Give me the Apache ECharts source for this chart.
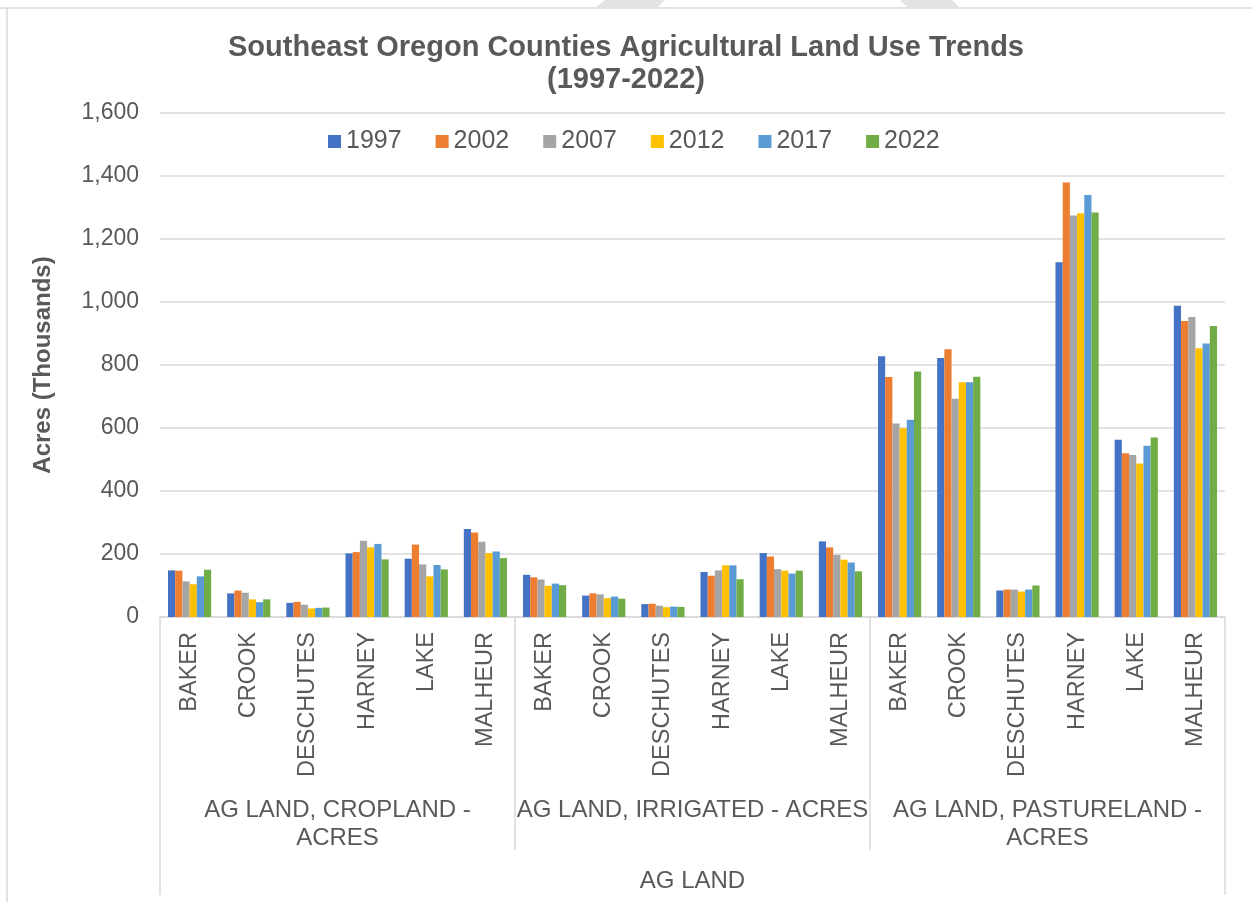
<!DOCTYPE html>
<html>
<head>
<meta charset="utf-8">
<title>Southeast Oregon Counties Agricultural Land Use Trends</title>
<script src="https://cdn.jsdelivr.net/npm/echarts@6/dist/echarts.min.js"></script>
<style>
	html, body { margin: 0; padding: 0; background: #ffffff; }
	#chart { width: 1252px; height: 902px; }
</style>
</head>
<body>
<div id="chart"></div>
<script>
	// county labels, repeated for each land-use group
	var counties = ['BAKER', 'CROOK', 'DESCHUTES', 'HARNEY', 'LAKE', 'MALHEUR'];
	var countyLabels = counties.concat(counties, counties);
	var groupLabels = ['AG LAND, CROPLAND -\nACRES', 'AG LAND, IRRIGATED - ACRES', 'AG LAND, PASTURELAND -\nACRES'];
	var topLabels = ['AG LAND'];
	var years = ['1997', '2002', '2007', '2012', '2017', '2022'];
	var yTicks = [0, 200, 400, 600, 800, 1000, 1200, 1400, 1600];

	// acres (thousands): cropland x6, irrigated x6, pastureland x6
	var v1997 = [148, 75, 45, 202, 185, 279,  134, 68, 41, 143, 203, 240,  828, 822, 84, 1126, 563, 988];
	var v2002 = [147, 84, 48, 206, 230, 268,  126, 75, 42, 131, 192, 221,  762, 850, 87, 1379, 520, 940];
	var v2007 = [113, 77, 39, 242, 167, 239,  119, 72, 36, 148, 152, 197,  614, 693, 87, 1275, 514, 952];
	var v2012 = [104, 56, 27, 221, 129, 203,   99, 60, 31, 164, 147, 182,  599, 745, 81, 1282, 487, 853];
	var v2017 = [129, 47, 29, 232, 165, 208,  106, 65, 33, 164, 138, 173,  626, 745, 87, 1340, 544, 868];
	var v2022 = [150, 56, 30, 183, 151, 187,  101, 58, 32, 120, 147, 145,  779, 763, 100, 1284, 570, 924];

	var seriesValues = [v1997, v2002, v2007, v2012, v2017, v2022];
	var colors = ['#4472c4', '#ed7d31', '#a5a5a5', '#ffc000', '#5b9bd5', '#70ad47'];
	var textColor = '#595959';
	var lineColor = '#d9d9d9';
	var font = 'Arial, "Liberation Sans", sans-serif';

	var myChart = echarts.init(document.getElementById('chart'));

	var series = years.map(function (y, i) {
		return {
			name: y,
			type: 'bar',
			xAxisIndex: 0,
			barGap: '0%',
			barCategoryGap: '27%',
			itemStyle: { color: colors[i] },
			data: seriesValues[i]
		};
	});

	var option = {
		animation: false,
		backgroundColor: '#ffffff',
		color: colors,
		textStyle: { fontFamily: font },
		title: {
			text: 'Southeast Oregon Counties Agricultural Land Use Trends\n(1997-2022)',
			left: 'center',
			top: 27,
			textStyle: {
				color: textColor,
				fontSize: 29,
				fontWeight: 'bold',
				lineHeight: 32,
				fontFamily: font
			}
		},
		legend: {
			data: years,
			left: 323,
			top: 124,
			itemWidth: 13,
			itemHeight: 13,
			itemGap: 34,
			icon: 'rect',
			textStyle: { color: textColor, fontSize: 25, fontFamily: font }
		},
		grid: {
			left: 160,
			right: 27,
			top: 113,
			bottom: 285,
			containLabel: false
		},
		xAxis: [
			{
				type: 'category',
				position: 'bottom',
				data: countyLabels,
				axisLine: { show: true, lineStyle: { color: lineColor, width: 1.5 } },
				axisTick: { show: false },
				axisLabel: {
					interval: 0,
					rotate: 90,
					margin: 15,
					color: textColor,
					fontSize: 23.5,
					fontFamily: font
				}
			},
			{
				type: 'category',
				position: 'bottom',
				data: groupLabels,
				axisLine: { show: false },
				axisTick: { show: true, length: 233, interval: 0, lineStyle: { color: lineColor, width: 1.5 } },
				axisLabel: {
					interval: 0,
					margin: 179,
					color: textColor,
					fontSize: 24,
					lineHeight: 28,
					align: 'center',
					verticalAlign: 'top',
					fontFamily: font
				}
			},
			{
				type: 'category',
				position: 'bottom',
				data: topLabels,
				axisLine: { show: false },
				axisTick: { show: true, length: 278, interval: 0, lineStyle: { color: lineColor, width: 1.5 } },
				axisLabel: {
					interval: 0,
					margin: 252,
					color: textColor,
					fontSize: 24,
					verticalAlign: 'top',
					fontFamily: font
				}
			}
		],
		yAxis: {
			type: 'value',
			min: yTicks[0],
			max: yTicks[yTicks.length - 1],
			interval: yTicks[1] - yTicks[0],
			name: 'Acres (Thousands)',
			nameLocation: 'middle',
			nameGap: 105,
			nameTextStyle: { color: textColor, fontSize: 24, fontWeight: 'bold', fontFamily: font },
			axisLine: { show: false },
			axisTick: { show: false },
			splitLine: { lineStyle: { color: lineColor, width: 1.5 } },
			axisLabel: {
				margin: 21,
				color: textColor,
				fontSize: 23,
				fontFamily: font,
				formatter: function (v) { return v.toLocaleString('en-US'); }
			}
		},
		graphic: [
			// chart frame edges and the faint page shapes above it
			{ type: 'line', shape: { x1: 0, y1: 8, x2: 1252, y2: 8 }, style: { stroke: lineColor, lineWidth: 1.5 } },
			{ type: 'line', shape: { x1: 7, y1: 8, x2: 7, y2: 902 }, style: { stroke: lineColor, lineWidth: 1.5 } },
			{ type: 'polygon', shape: { points: [[605, 0], [665, 0], [657, 8], [595, 8]] }, style: { fill: '#e3e3e3' } },
			{ type: 'polygon', shape: { points: [[900, 0], [952, 0], [960, 8], [908, 8]] }, style: { fill: '#e3e3e3' } }
		],
		series: series
	};

	myChart.setOption(option);
</script>
</body>
</html>
